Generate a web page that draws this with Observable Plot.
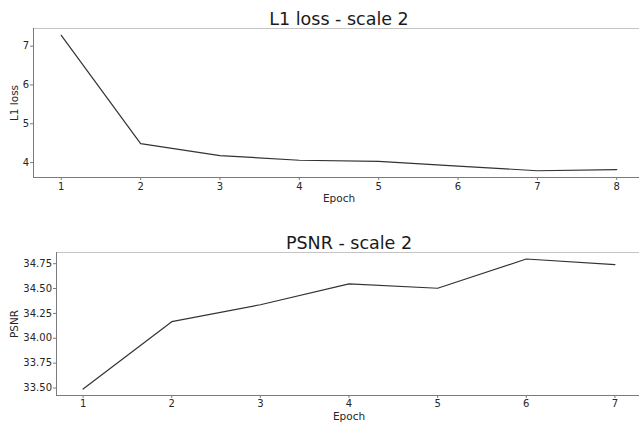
<!DOCTYPE html>
<html>
<head>
<meta charset="utf-8">
<script src="https://cdn.jsdelivr.net/npm/d3@7"></script>
<script src="https://cdn.jsdelivr.net/npm/@observablehq/plot@0.6"></script>
<style>
  body { margin: 0; background: white; }
  #wrap { position: relative; width: 639px; height: 422px; overflow: hidden; background: white; }
  #wrap svg { display: block; max-width: none !important; }
</style>
</head>
<body>
<div id="wrap"></div>
<script>
// ---- data ----
const lossEpochs = [1, 2, 3, 4, 5, 6, 7, 8];
const l1Loss = [7.28, 4.49, 4.18, 4.06, 4.03, 3.91, 3.79, 3.82];
const psnrEpochs = [1, 2, 3, 4, 5, 6, 7];
const psnrValues = [33.49, 34.167, 34.337, 34.547, 34.503, 34.797, 34.74];
const lossYTicks = [4, 5, 6, 7];
const psnrYTicks = [33.5, 33.75, 34.0, 34.25, 34.5, 34.75];
const lossTitle = "L1 loss - scale 2";
const psnrTitle = "PSNR - scale 2";

// matplotlib-like 5% margins
function padded(values) {
  const [a, b] = d3.extent(values);
  const r = b - a;
  return [a - 0.05 * r, b + 0.05 * r];
}

const textColor = "#262626";
const spineDark = "#7a7a7a";
const spineLight = "#c4c4c4";
const lineColor = "#333333";

function chart({xs, ys, xTicks, yTicks, yFormat, title, ylabel, marginLeft, marginRight, marginTop, marginBottom, height, ylabelDx, epochDy, xPad}) {
  const data = xs.map((x, i) => ({x, y: ys[i]}));
  return Plot.plot({
    width: 650,
    height,
    marginLeft, marginRight, marginTop, marginBottom,
    style: {fontFamily: "DejaVu Sans", fontSize: "10px", color: textColor, background: "white", overflow: "visible", maxWidth: "none"},
    x: {domain: padded(xs), axis: null},
    y: {domain: padded(ys), axis: null},
    marks: [
      Plot.frame({stroke: spineLight}),
      Plot.frame({anchor: "left", stroke: spineDark}),
      Plot.frame({anchor: "bottom", stroke: spineDark}),
      Plot.axisX({ticks: xTicks, tickFormat: d3.format("d"), tickSize: 3, tickPadding: xPad, label: null, stroke: spineDark, fill: textColor}),
      Plot.axisY({ticks: yTicks, tickFormat: yFormat, tickSize: 3, tickPadding: 1.5, label: null, stroke: spineDark, fill: textColor}),
      Plot.line(data, {x: "x", y: "y", stroke: lineColor, strokeWidth: 1.2}),
      Plot.text([title], {frameAnchor: "top", lineAnchor: "bottom", dy: -3.5, fontSize: 17.5, fill: "#1a1a1a"}),
      Plot.text(["Epoch"], {frameAnchor: "bottom", lineAnchor: "bottom", dy: epochDy, fontSize: 10.5, fill: textColor}),
      Plot.text([ylabel], {frameAnchor: "left", textAnchor: "middle", lineAnchor: "middle", rotate: -90, dx: ylabelDx, fontSize: 10.5, fill: textColor})
    ]
  });
}

const wrap = document.getElementById("wrap");
wrap.appendChild(chart({
  xs: lossEpochs, ys: l1Loss, xTicks: lossEpochs, yTicks: lossYTicks, yFormat: d3.format("d"),
  title: lossTitle, ylabel: "L1 loss",
  marginLeft: 33, marginRight: 6, marginTop: 28, marginBottom: 34, height: 211,
  ylabelDx: -19, epochDy: 24.5, xPad: 2.5
}));
wrap.appendChild(chart({
  xs: psnrEpochs, ys: psnrValues, xTicks: psnrEpochs, yTicks: psnrYTicks, yFormat: d3.format(".2f"),
  title: psnrTitle, ylabel: "PSNR",
  marginLeft: 56, marginRight: 9, marginTop: 41, marginBottom: 27, height: 211,
  ylabelDx: -42, epochDy: 24, xPad: 1.5
}));
</script>
</body>
</html>
